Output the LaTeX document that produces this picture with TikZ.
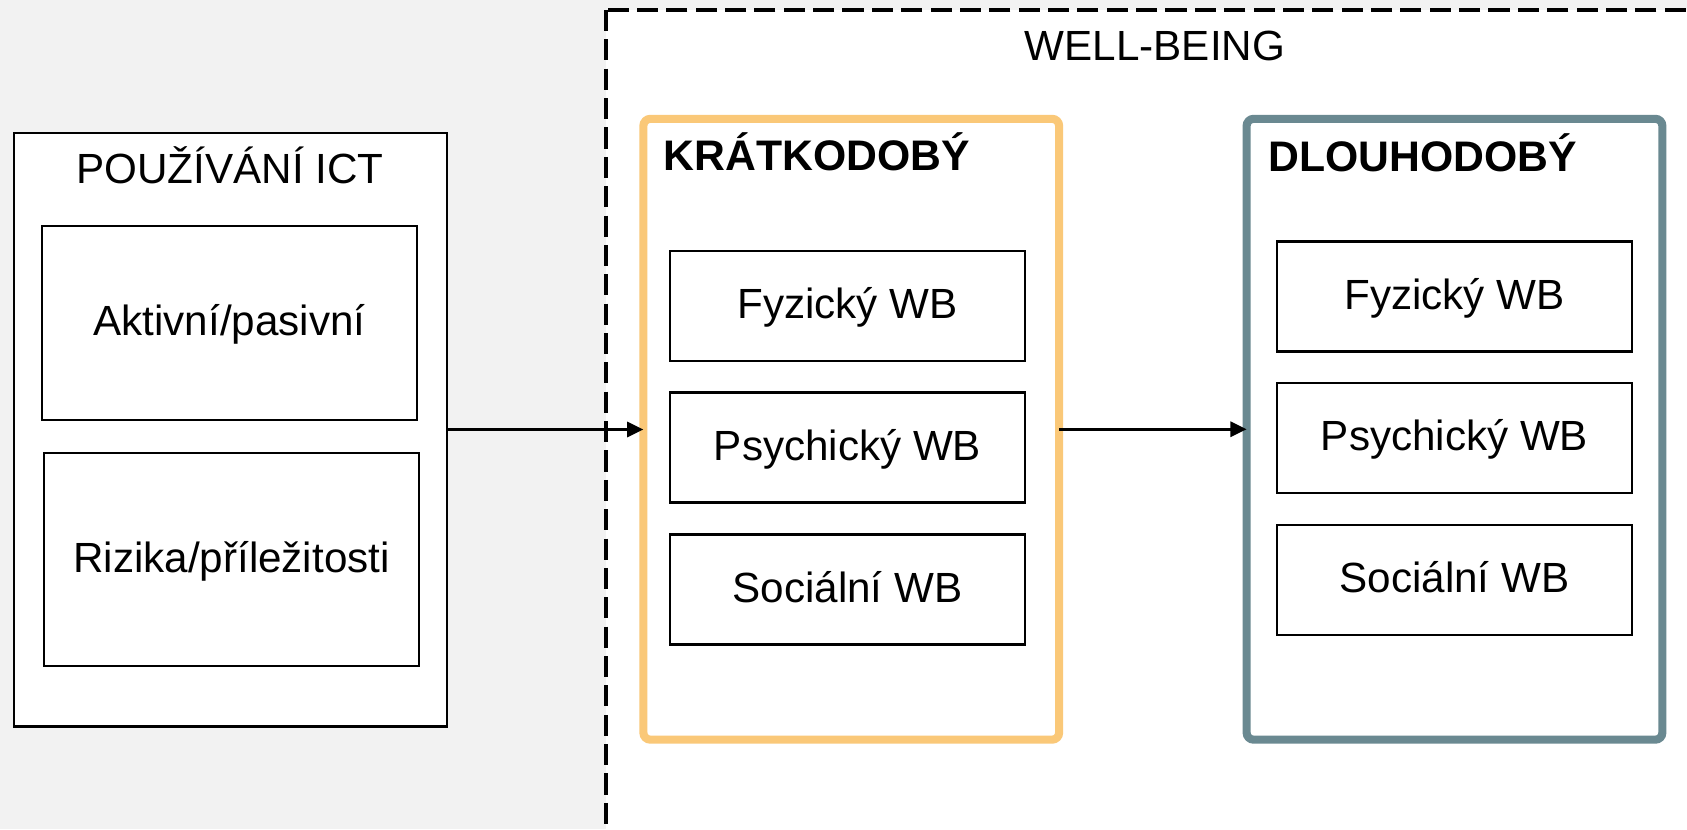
\documentclass[tikz,border=0pt]{standalone}
\usepackage{fontspec}
\setmainfont{Liberation Sans}
\usetikzlibrary{arrows.meta, positioning}

\definecolor{shortterm}{HTML}{FAC878}
\definecolor{longterm}{HTML}{6A8991}
\definecolor{paper}{HTML}{F2F2F2}

\begin{document}
\begin{tikzpicture}[
  x=0.01cm, y=-0.01cm,
  font=\fontsize{12}{14}\selectfont,
  frame/.style={draw, line width=0.75pt, fill=white, inner sep=0pt, outer sep=0pt},
  item/.style={frame, minimum width=3.55cm, minimum height=1.1cm, align=center,
               text height=0.72em, text depth=0pt},
  term/.style={draw, line width=2.3pt, rounded corners=2pt, fill=white,
               inner sep=0pt, outer sep=0pt, minimum width=4.155cm, minimum height=6.205cm},
  head/.style={anchor=base west, inner sep=0pt, font=\fontsize{12.15}{15}\selectfont\bfseries},
  title/.style={anchor=base, inner sep=0pt},
  flow/.style={-{Triangle[length=4.6pt, width=4.3pt]}, line width=0.8pt}]

  \useasboundingbox (0,0) rectangle (1687,829);
  \begin{scope}
    \clip (0,0) rectangle (1687,829);
    \fill[paper] (0,0) rectangle (1687,829);
    % well-being area
    \draw[fill=white, line width=1.05pt, dash pattern=on 6pt off 2.35pt]
      (606,10) rectangle (1720,860);
  \end{scope}
  \node[title] (wbtitle) at (1155,60) {WELL-BEING};

  % use of ICT
  \node[frame, minimum width=4.33cm, minimum height=5.93cm] (ict) at (230.5,429.5) {};
  \node[title] (icttitle) at (230,183) {POUŽÍVÁNÍ ICT};
  \node[item, minimum width=3.75cm, minimum height=1.94cm] (active) at (229.5,323) {Aktivní/pasivní};
  \node[item, minimum width=3.75cm, minimum height=2.13cm] (risks) at (231.5,559.5) {Rizika/příležitosti};

  % short term
  \node[term, draw=shortterm] (short) at (851.25,429.25) {};
  \node[head] (shorthead) at (663,170) {KRÁTKODOBÝ};
  \node[item] (sphys) at (847.5,306) {Fyzický WB};
  \node[item] (spsy) at (847.5,447.5) {Psychický WB};
  \node[item] (ssoc) at (847.5,589.5) {Sociální WB};

  % long term
  \node[term, draw=longterm] (long) at (1454.5,429.25) {};
  \node[head] (longhead) at (1268,171) {DLOUHODOBÝ};
  \node[item] (lphys) at (1454.5,296.5) {Fyzický WB};
  \node[item] (lpsy) at (1454.5,438) {Psychický WB};
  \node[item] (lsoc) at (1454.5,580) {Sociální WB};

  \draw[flow] (ict.east) -- (ict.east -| short.west);
  \draw[flow] (short.east) -- (short.east -| long.west);
\end{tikzpicture}
\end{document}
